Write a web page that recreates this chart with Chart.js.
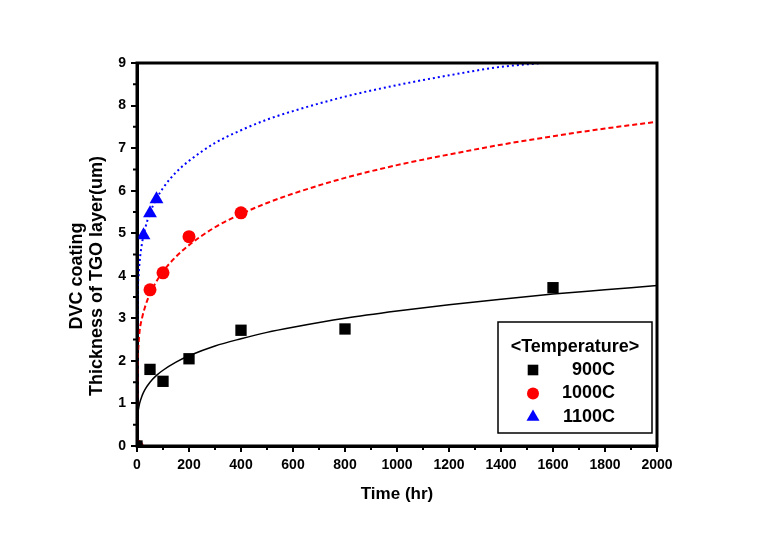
<!DOCTYPE html>
<html>
<head>
<meta charset="utf-8">
<script src="https://cdn.jsdelivr.net/npm/chart.js@4"></script>
<style>
  html, body { margin: 0; padding: 0; background: #fff; }
  #wrap { width: 763px; height: 534px; }
</style>
</head>
<body>
<div id="wrap"><canvas id="tgoChart" width="763" height="534"></canvas></div>
<script>
// measured points (hr, um)
const time900 = [0, 50, 100, 200, 400, 800, 1600];
const thick900 = [0, 1.80, 1.52, 2.05, 2.72, 2.75, 3.72];
const time1000 = [0, 50, 100, 200, 400];
const thick1000 = [0, 3.67, 4.07, 4.92, 5.48];
const time1100 = [0, 25, 50, 75];
const thick1100 = [0, 4.95, 5.47, 5.80];

// fitted curves
const fitTime = [0, 2, 5, 10, 20, 30, 50, 75, 100, 150, 200, 300, 400, 500, 600, 800, 1000, 1200, 1400, 1600, 1800, 2000];
const fit900 = [0, 0.67, 0.84, 1.00, 1.19, 1.32, 1.50, 1.66, 1.78, 1.97, 2.12, 2.35, 2.52, 2.67, 2.79, 3.00, 3.17, 3.32, 3.45, 3.57, 3.67, 3.77];
const fit1000 = [0, 1.85, 2.30, 2.70, 3.02, 3.25, 3.58, 3.87, 4.10, 4.45, 4.72, 5.14, 5.45, 5.71, 5.93, 6.30, 6.60, 6.85, 7.08, 7.28, 7.46, 7.62];
const fitTime1100 = [0, 2, 5, 10, 20, 30, 50, 75, 100, 150, 200, 300, 400, 500, 600, 800, 1000, 1200, 1400, 1560];
const fit1100 = [0, 3.42, 3.91, 4.33, 4.79, 5.08, 5.48, 5.81, 6.06, 6.43, 6.70, 7.12, 7.42, 7.67, 7.87, 8.21, 8.48, 8.71, 8.91, 9.00];

const seriesNames = ['900C', '1000C', '1100C'];
const xTicks = [0, 2000, 200];
const yTicks = [0, 9, 1];

const FONT = '"Liberation Sans", Arial, sans-serif';

function pairs(xs, ys) {
    return xs.map((x, i) => ({ x: x, y: ys[i] }));
}

function fitLine(xs, ys, color, dash, width) {
    return {
        type: 'line',
        data: pairs(xs, ys),
        borderColor: color,
        borderWidth: width,
        borderDash: dash,
        pointRadius: 0,
        fill: false,
        cubicInterpolationMode: 'monotone',
        order: 2
    };
}

function marks(label, xs, ys, color, style, radius) {
    return {
        type: 'scatter',
        label: label,
        data: pairs(xs, ys),
        backgroundColor: color,
        borderColor: color,
        borderWidth: 0,
        pointStyle: style,
        pointRadius: radius,
        showLine: false,
        order: 1
    };
}

const legendItems = [
    { text: seriesNames[0], color: '#000000', style: 'rect', radius: 7.5 },
    { text: seriesNames[1], color: '#ff0000', style: 'circle', radius: 6 },
    { text: seriesNames[2], color: '#0000ff', style: 'triangle', radius: 7.5 }
];

// frame, minor ticks, axis titles and boxed legend
const decorations = {
    id: 'decorations',
    afterDatasetsDraw(chart) {
        const ctx = chart.ctx;
        const a = chart.chartArea;
        const xs = chart.scales.x, ys = chart.scales.y;
        ctx.save();
        ctx.strokeStyle = '#000';
        ctx.lineWidth = 3;
        ctx.strokeRect(a.left, a.top, a.right - a.left, a.bottom - a.top);

        ctx.lineWidth = 2;
        ctx.beginPath();
        for (let v = 100; v < 2000; v += 200) {
            const px = xs.getPixelForValue(v);
            ctx.moveTo(px, a.bottom);
            ctx.lineTo(px, a.bottom + 4);
        }
        for (let v = 0.5; v < 9; v += 1) {
            const py = ys.getPixelForValue(v);
            ctx.moveTo(a.left, py);
            ctx.lineTo(a.left - 4, py);
        }
        ctx.stroke();

        ctx.fillStyle = '#000';
        ctx.font = 'bold 17px ' + FONT;
        ctx.textAlign = 'center';
        ctx.textBaseline = 'middle';
        ctx.fillText('Time (hr)', (a.left + a.right) / 2, a.bottom + 48);

        ctx.save();
        ctx.translate(77, a.bottom - 170);
        ctx.rotate(-Math.PI / 2);
        ctx.font = 'bold 18px ' + FONT;
        ctx.fillText('DVC coating', 0, 0);
        ctx.fillText('Thickness of TGO layer(um)', 0, 20);
        ctx.restore();

        // legend box
        const bx = a.right - 159, by = a.bottom - 124, bw = 154, bh = 111;
        ctx.lineWidth = 1.5;
        ctx.strokeRect(bx, by, bw, bh);
        ctx.font = 'bold 18px ' + FONT;
        ctx.textAlign = 'center';
        ctx.fillText('<Temperature>', bx + bw / 2, by + 25);
        legendItems.forEach((it, i) => {
            const cy = by + 48 + i * 23.5;
            ctx.fillStyle = it.color;
            Chart.helpers.drawPoint(ctx, { pointStyle: it.style, radius: it.radius, borderWidth: 0 }, bx + 35, cy);
            ctx.fillStyle = '#000';
            ctx.textAlign = 'right';
            ctx.fillText(it.text, bx + 117, cy);
        });
        ctx.restore();
    }
};

const ctxTgo = document.getElementById('tgoChart').getContext('2d');

new Chart(ctxTgo, {
    data: {
        datasets: [
            fitLine(fitTime, fit900, '#000000', [], 1.5),
            fitLine(fitTime, fit1000, '#ff0000', [5, 3], 2),
            fitLine(fitTime1100, fit1100, '#0000ff', [2, 3], 2),
            marks(seriesNames[0], time900, thick900, '#000000', 'rect', 8),
            marks(seriesNames[1], time1000, thick1000, '#ff0000', 'circle', 6.5),
            marks(seriesNames[2], time1100, thick1100, '#0000ff', 'triangle', 8)
        ]
    },
    options: {
        responsive: false,
        animation: false,
        layout: { padding: { left: 0, right: 106, top: 63, bottom: 0 } },
        plugins: { legend: { display: false }, tooltip: { enabled: false } },
        scales: {
            x: {
                type: 'linear',
                min: xTicks[0],
                max: xTicks[1],
                afterFit: s => { s.height = 88; },
                ticks: {
                    stepSize: xTicks[2],
                    color: '#000',
                    padding: 5,
                    maxRotation: 0,
                    callback: v => String(v),
                    font: { family: FONT, size: 14, weight: 'bold' }
                },
                grid: { drawOnChartArea: false, color: '#000', lineWidth: 2, tickLength: 6 },
                border: { display: true, color: '#000', width: 3 }
            },
            y: {
                type: 'linear',
                min: yTicks[0],
                max: yTicks[1],
                afterFit: s => { s.width = 137; },
                ticks: {
                    stepSize: yTicks[2],
                    color: '#000',
                    padding: 5,
                    callback: v => String(v),
                    font: { family: FONT, size: 14, weight: 'bold' }
                },
                grid: { drawOnChartArea: false, color: '#000', lineWidth: 2, tickLength: 6 },
                border: { display: true, color: '#000', width: 3 }
            }
        }
    },
    plugins: [decorations]
});
</script>
</body>
</html>
